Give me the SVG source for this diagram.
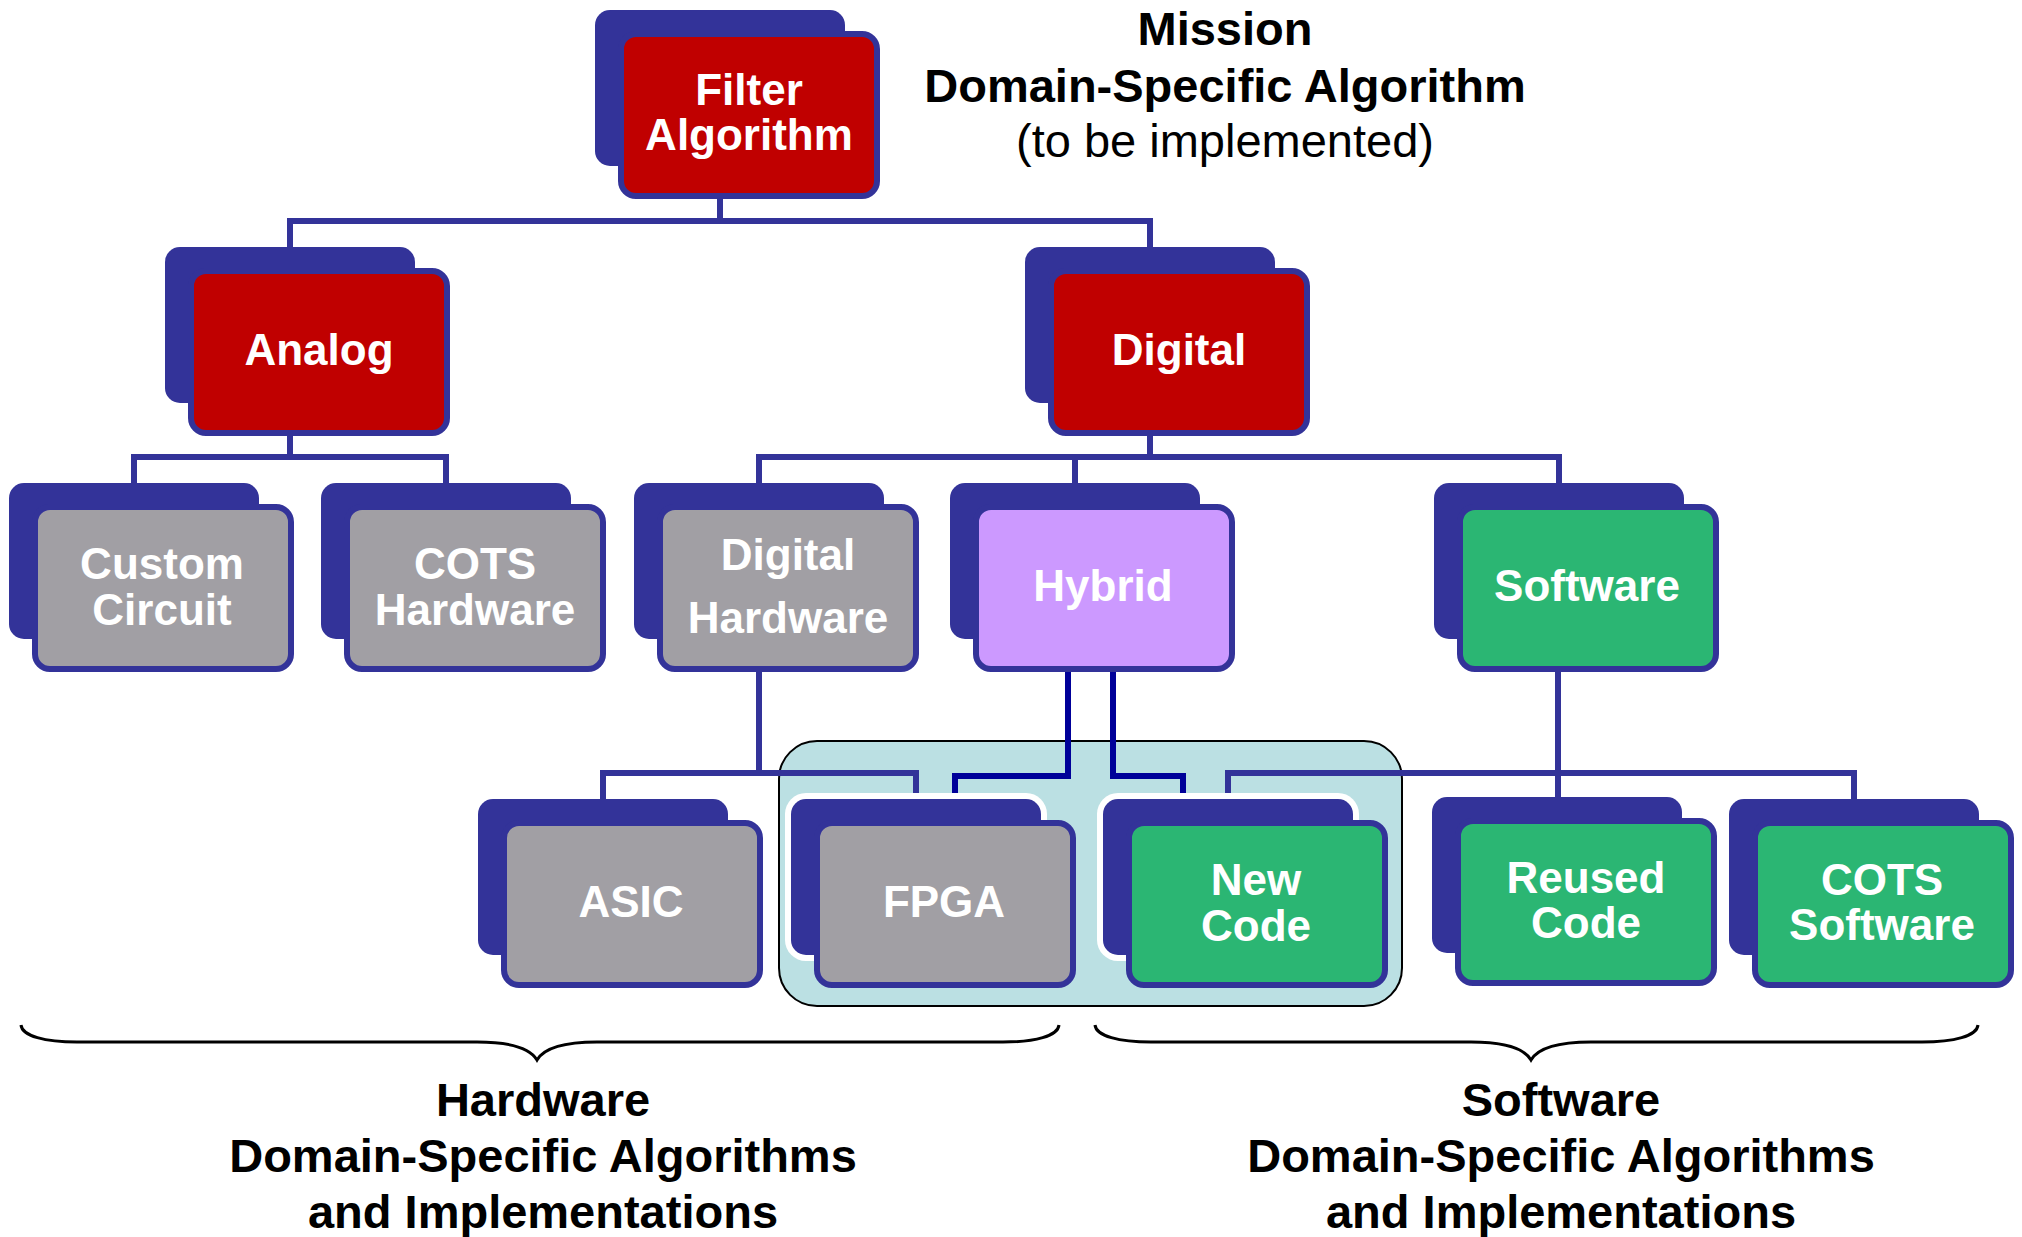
<svg xmlns="http://www.w3.org/2000/svg" width="2022" height="1237" viewBox="0 0 2022 1237">
<style>
.back{fill:#333399;}
.halo{fill:#ffffff;}
.front{stroke:#333399;stroke-width:6;}
.red{fill:#C00000;}
.grey{fill:#A19FA4;}
.purple{fill:#CC99FF;}
.green{fill:#2BB673;}
.lbl{font-family:"Liberation Sans",Arial,sans-serif;font-weight:bold;font-size:44px;fill:#ffffff;text-anchor:middle;}
.title{font-family:"Liberation Sans",Arial,sans-serif;font-size:47px;fill:#000000;text-anchor:middle;}
.b{font-weight:bold;}
.conn{fill:none;stroke:#333399;stroke-width:6;}
.hyb{fill:none;stroke:#000099;stroke-width:6;}
.brace{fill:none;stroke:#000000;stroke-width:3;}
</style>
<rect width="2022" height="1237" fill="#ffffff"/>

<g id="hybrid-group">
<rect x="779" y="741" width="623" height="265" rx="38" fill="#BBE0E3" stroke="#000000" stroke-width="2"/>
</g>

<g id="connectors">
<path class="conn" d="M720 199 V221 M290 247 V221 H1150 V247"/>
<path class="conn" d="M290 436 V457 M134 483 V457 H446 V483"/>
<path class="conn" d="M1150 436 V457 M759 483 V457 H1559 V483 M1075 457 V483"/>
<path class="conn" d="M759 672 V773 M603 799 V773 H916 V795"/>
<path class="conn" d="M1558 672 V773 M1228 795 V773 H1854 V799 M1558 773 V797"/>
<path class="hyb" d="M1068 672 V776 H955 V795"/>
<path class="hyb" d="M1113 672 V776 H1183 V795"/>
</g>

<g id="node-filter">
<rect class="back" x="595" y="10" width="250" height="156" rx="15"/>
<rect class="front red" x="621" y="34" width="256" height="162" rx="15"/>
<text class="lbl" x="749" y="105">Filter</text>
<text class="lbl" x="749" y="150">Algorithm</text>
</g>

<g id="node-analog">
<rect class="back" x="165" y="247" width="250" height="156" rx="15"/>
<rect class="front red" x="191" y="271" width="256" height="162" rx="15"/>
<text class="lbl" x="319" y="365">Analog</text>
</g>

<g id="node-digital">
<rect class="back" x="1025" y="247" width="250" height="156" rx="15"/>
<rect class="front red" x="1051" y="271" width="256" height="162" rx="15"/>
<text class="lbl" x="1179" y="365">Digital</text>
</g>

<g id="node-custom-circuit">
<rect class="back" x="9" y="483" width="250" height="156" rx="15"/>
<rect class="front grey" x="35" y="507" width="256" height="162" rx="15"/>
<text class="lbl" x="162" y="579">Custom</text>
<text class="lbl" x="162" y="625">Circuit</text>
</g>

<g id="node-cots-hardware">
<rect class="back" x="321" y="483" width="250" height="156" rx="15"/>
<rect class="front grey" x="347" y="507" width="256" height="162" rx="15"/>
<text class="lbl" x="475" y="579">COTS</text>
<text class="lbl" x="475" y="625">Hardware</text>
</g>

<g id="node-digital-hardware">
<rect class="back" x="634" y="483" width="250" height="156" rx="15"/>
<rect class="front grey" x="660" y="507" width="256" height="162" rx="15"/>
<text class="lbl" x="788" y="570">Digital</text>
<text class="lbl" x="788" y="633">Hardware</text>
</g>

<g id="node-hybrid">
<rect class="back" x="950" y="483" width="250" height="156" rx="15"/>
<rect class="front purple" x="976" y="507" width="256" height="162" rx="15"/>
<text class="lbl" x="1103" y="601">Hybrid</text>
</g>

<g id="node-software">
<rect class="back" x="1434" y="483" width="250" height="156" rx="15"/>
<rect class="front green" x="1460" y="507" width="256" height="162" rx="15"/>
<text class="lbl" x="1587" y="601">Software</text>
</g>

<g id="node-asic">
<rect class="back" x="478" y="799" width="250" height="156" rx="15"/>
<rect class="front grey" x="504" y="823" width="256" height="162" rx="15"/>
<text class="lbl" x="631" y="917">ASIC</text>
</g>

<g id="node-fpga">
<rect class="halo" x="785" y="793" width="262" height="168" rx="21"/>
<rect class="back" x="791" y="799" width="250" height="156" rx="15"/>
<rect class="front grey" x="817" y="823" width="256" height="162" rx="15"/>
<text class="lbl" x="944" y="917">FPGA</text>
</g>

<g id="node-new-code">
<rect class="halo" x="1097" y="793" width="262" height="168" rx="21"/>
<rect class="back" x="1103" y="799" width="250" height="156" rx="15"/>
<rect class="front green" x="1129" y="823" width="256" height="162" rx="15"/>
<text class="lbl" x="1256" y="895">New</text>
<text class="lbl" x="1256" y="941">Code</text>
</g>

<g id="node-reused-code">
<rect class="back" x="1432" y="797" width="250" height="156" rx="15"/>
<rect class="front green" x="1458" y="821" width="256" height="162" rx="15"/>
<text class="lbl" x="1586" y="893">Reused</text>
<text class="lbl" x="1586" y="938">Code</text>
</g>

<g id="node-cots-software">
<rect class="back" x="1729" y="799" width="250" height="156" rx="15"/>
<rect class="front green" x="1755" y="823" width="256" height="162" rx="15"/>
<text class="lbl" x="1882" y="895">COTS</text>
<text class="lbl" x="1882" y="940">Software</text>
</g>

<g id="mission-label">
<text class="title b" x="1225" y="45">Mission</text>
<text class="title b" x="1225" y="102">Domain-Specific Algorithm</text>
<text class="title" x="1225" y="157">(to be implemented)</text>
</g>

<g id="hardware-brace">
<path class="brace" d="M21 1025 C22 1036 45 1042 77 1042 L477 1042 C510 1042 530 1048 537 1060 C544 1048 564 1042 597 1042 L1003 1042 C1035 1042 1058 1036 1059 1025"/>
<text class="title b" x="543" y="1116">Hardware</text>
<text class="title b" x="543" y="1172">Domain-Specific Algorithms</text>
<text class="title b" x="543" y="1228">and Implementations</text>
</g>

<g id="software-brace">
<path class="brace" d="M1095 1025 C1096 1036 1119 1042 1151 1042 L1471 1042 C1504 1042 1524 1048 1531 1060 C1538 1048 1558 1042 1591 1042 L1922 1042 C1954 1042 1977 1036 1978 1025"/>
<text class="title b" x="1561" y="1116">Software</text>
<text class="title b" x="1561" y="1172">Domain-Specific Algorithms</text>
<text class="title b" x="1561" y="1228">and Implementations</text>
</g>
</svg>
